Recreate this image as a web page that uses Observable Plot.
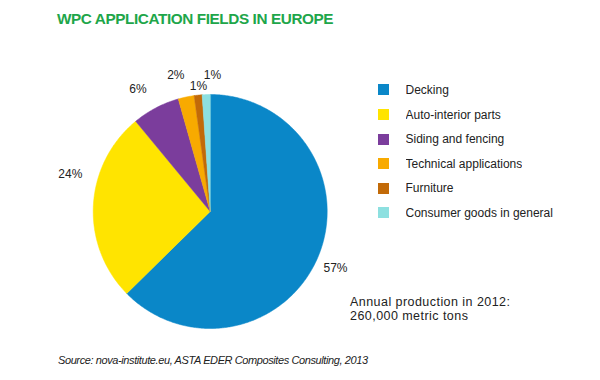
<!DOCTYPE html>
<html><head><meta charset="utf-8">
<script src="https://cdn.jsdelivr.net/npm/d3@7"></script>
<script src="https://cdn.jsdelivr.net/npm/@observablehq/plot@0.6"></script>
<style>
html,body{margin:0;padding:0;background:#fff;}
#wrap{position:relative;width:600px;height:380px;overflow:hidden;font-family:"Liberation Sans",Arial,Helvetica,sans-serif;color:#222;}
#chart{position:absolute;left:0;top:0;}
#title{position:absolute;left:57px;top:9.5px;font-size:15.3px;letter-spacing:-0.4px;font-weight:bold;color:#1ea64a;white-space:nowrap;}
#legend{position:absolute;left:378px;top:77.7px;width:220px;}
#legend .lg-swatches{font-family:"Liberation Sans",Arial,sans-serif;font-size:12px;color:#222;margin:0;}
#legend .lg-swatch{height:24.6px;padding-bottom:0;}
#legend .lg-swatch > svg{margin-right:16.5px;}
#note{position:absolute;left:350px;top:295px;font-size:12.5px;letter-spacing:0.45px;line-height:14px;white-space:nowrap;color:#222;}
#source{position:absolute;left:58px;top:354px;font-size:11px;letter-spacing:-0.4px;font-style:italic;white-space:nowrap;color:#222;}
</style>
</head><body>
<div id="wrap">
  <div id="chart"></div>
  <div id="title">WPC APPLICATION FIELDS IN EUROPE</div>
  <div id="legend"></div>
  <div id="note">Annual production in 2012:<br>260,000 metric tons</div>
  <div id="source">Source: nova-institute.eu, ASTA EDER Composites Consulting, 2013</div>
</div>
<script>
// ---- data ----
const categories = ["Decking", "Auto-interior parts", "Siding and fencing", "Technical applications", "Furniture", "Consumer goods in general"];
const shares = [57, 24, 6, 2, 1, 1];
const shareLabels = ["57%", "24%", "6%", "2%", "1%", "1%"];
const colors = ["#0a87c8", "#ffe400", "#7b3d9c", "#f8aa00", "#c26a08", "#8de0e0"];

// ---- layout helpers (pixel nudges for the value labels) ----
const labelNudge = {"Decking": [-2, 3], "Auto-interior parts": [-2, -30], "Siding and fencing": [-8, 0], "Technical applications": [-6, -1], "Furniture": [2.5, 12], "Consumer goods in general": [7, 2]};
const R = 117; // pixel radius (used only to convert nudges)
const labelRadius = 1.18;

const rows = categories.map((c, i) => ({cat: c, share: shares[i], label: shareLabels[i]}));
const arcs = d3.pie().sort(null).value(d => d.share)(rows);

const polyPts = [];
for (const a of arcs) {
  const cat = a.data.cat;
  const n = Math.max(4, Math.ceil((a.endAngle - a.startAngle) / 0.01));
  polyPts.push({cat, x: 0, y: 0});
  for (let i = 0; i <= n; i++) {
    const t = a.startAngle + (a.endAngle - a.startAngle) * i / n;
    polyPts.push({cat, x: Math.sin(t), y: Math.cos(t)});
  }
}
const labelRows = arcs.map(a => {
  const m = (a.startAngle + a.endAngle) / 2;
  const [dx, dy] = labelNudge[a.data.cat];
  return {label: a.data.label, x: labelRadius * Math.sin(m) + dx / R, y: labelRadius * Math.cos(m) - dy / R};
});

const chart = Plot.plot({
  width: 600, height: 380,
  marginLeft: 92.7, marginRight: 273.3, marginTop: 94, marginBottom: 52,
  x: {domain: [-1, 1], axis: null},
  y: {domain: [-1, 1], axis: null},
  color: {domain: categories, range: colors},
  style: {fontFamily: "'Liberation Sans', Arial, sans-serif", fontSize: "12px", background: "transparent", overflow: "visible"},
  marks: [
    Plot.line(polyPts, {x: "x", y: "y", z: "cat", fill: "cat", stroke: "cat", strokeWidth: 0.5, curve: "linear-closed"}),
    Plot.text(labelRows, {x: "x", y: "y", text: "label", fill: "#222", fontSize: 12})
  ]
});
document.getElementById("chart").appendChild(chart);

const legend = Plot.legend({
  color: {domain: categories, range: colors},
  legend: "swatches",
  columns: 1,
  swatchSize: 11,
  className: "lg"
});
document.getElementById("legend").appendChild(legend);
</script>
</body></html>
